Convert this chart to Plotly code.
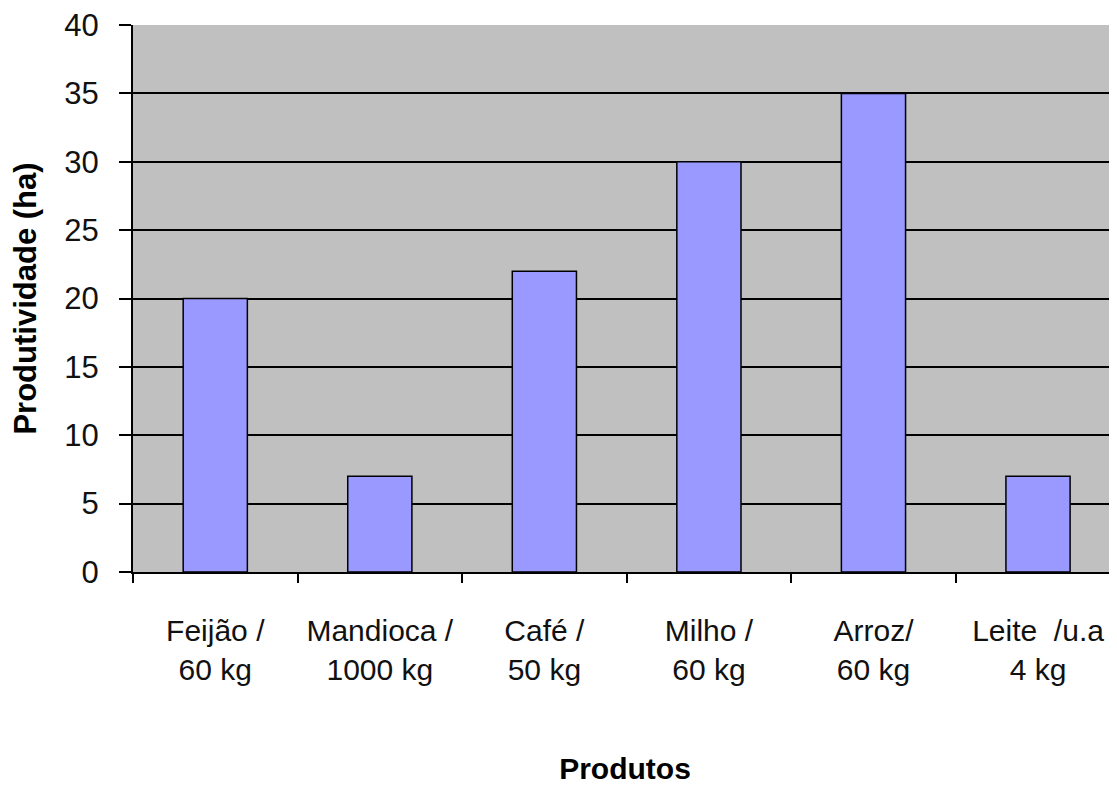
import plotly.graph_objects as go

categories = ["Feijão /<br>60 kg", "Mandioca /<br>1000 kg", "Café /<br>50 kg",
              "Milho /<br>60 kg", "Arroz/<br>60 kg", "Leite  /u.a<br>4 kg"]
values = [20, 7, 22, 30, 35, 7]
y_ticks = [0, 5, 10, 15, 20, 25, 30, 35, 40]

fig = go.Figure()
fig.add_trace(go.Bar(
    x=categories, y=values,
    marker=dict(color="#9999FF", line=dict(color="black", width=1.5)),
))

fig.update_layout(
    width=1109, height=777,
    margin=dict(l=125, r=0, t=17, b=213),
    paper_bgcolor="white",
    plot_bgcolor="#C0C0C0",
    bargap=0.61,
    showlegend=False,
    font=dict(family="Liberation Sans, Arial, sans-serif", color="black"),
)

fig.update_xaxes(
    type="category",
    range=[-0.5, 5.48],
    automargin=False,
    tickson="boundaries",
    ticks="outside", ticklen=9, tickwidth=2, tickcolor="black",
    showline=True, linecolor="black", linewidth=2,
    showgrid=False,
    ticklabelstandoff=31,
    ticklabeloverflow="allow",
    tickfont=dict(size=30, color="#111111"),
    title=dict(text="<b>Produtos</b>", font=dict(size=30, color="black"), standoff=82),
)

fig.update_yaxes(
    range=[0, 40],
    tickvals=y_ticks,
    automargin=False,
    ticks="outside", ticklen=12, tickwidth=2, tickcolor="black",
    showline=True, linecolor="black", linewidth=2,
    showgrid=True, gridcolor="black", gridwidth=1.5,
    zeroline=False,
    ticklabelstandoff=14,
    ticklabeloverflow="allow",
    tickfont=dict(size=31, color="#111111"),
    title=dict(text="<b>Produtividade (ha)</b>", font=dict(size=31, color="black"), standoff=30),
)

fig.write_html("out.html")
